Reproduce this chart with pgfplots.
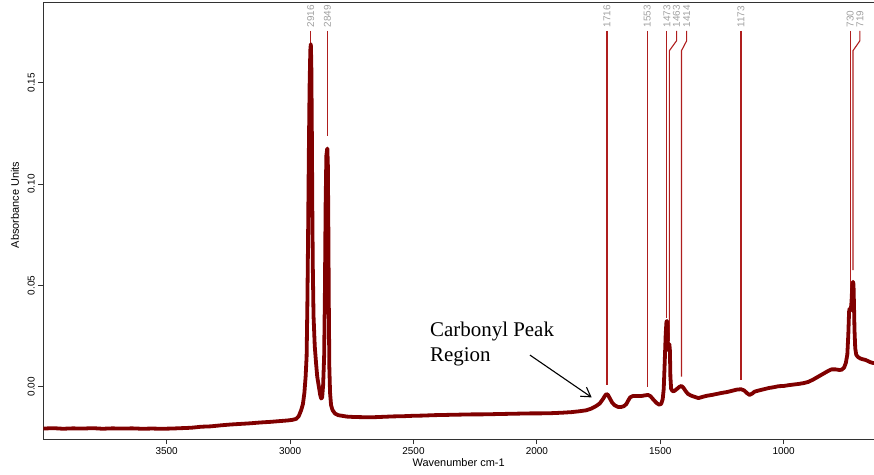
\documentclass[border=0pt]{standalone}
\usepackage{fontspec}
\setmainfont{Liberation Sans}
\newfontfamily\timesfont{Liberation Serif}
\usepackage{pgfplots}
\pgfplotsset{compat=1.18}
\usetikzlibrary{arrows.meta}

\definecolor{spec}{RGB}{128,0,0}
\definecolor{peakline}{RGB}{175,30,30}
\definecolor{peaktext}{RGB}{160,160,160}
\definecolor{axisgray}{RGB}{50,50,50}

\begin{document}
\begin{tikzpicture}
\useasboundingbox (-43.3bp,-35.7bp) rectangle (830.7bp,439.3bp);
\begin{axis}[
  at={(0,0)}, anchor=south west,
  scale only axis,
  width=830.7bp, height=437.3bp,
  x dir=reverse,
  xmin=634, xmax=4000,
  ymin=-0.0259, ymax=0.1898,
  axis x line=box, axis y line=left,
  axis line style={-, axisgray, line width=0.8bp},
  xtick={3500,3000,2500,2000,1500,1000},
  ytick={0,0.05,0.1,0.15},
  xtick pos=left,
  tick align=outside,
  major tick length=5bp,
  tick style={axisgray, line width=0.8bp},
  every tick label/.append style={font=\fontsize{10}{11}\selectfont},
  /pgf/number format/assume math mode=true,
  /pgf/number format/1000 sep={},
  yticklabel style={rotate=90, anchor=south,
    /pgf/number format/fixed, /pgf/number format/fixed zerofill,
    /pgf/number format/precision=2},
  xlabel={Wavenumber cm-1},
  ylabel={Absorbance Units},
  label style={font=\fontsize{11}{12}\selectfont},
  xlabel style={at={(axis description cs:0.5,-0.0627)}, anchor=base},
  ylabel style={at={(axis description cs:-0.0341,0.536)}, anchor=center},
  clip mode=individual,
]

% peak marker lines
\draw[peakline, line width=1.1bp] (axis cs:2916,0.1756) -- (axis cs:2916,0.168);
\draw[peakline, line width=1.1bp] (axis cs:2849,0.1756) -- (axis cs:2849,0.1237);
\draw[peakline, line width=1.1bp] (axis cs:1716,0.1756) -- (axis cs:1716,0.0008);
\draw[peakline, line width=1.1bp] (axis cs:1553,0.1756) -- (axis cs:1553,-0.0003);
\draw[peakline, line width=1.1bp] (axis cs:1473,0.1756) -- (axis cs:1473,0.034);
\draw[peakline, line width=1.1bp] (axis cs:1434,0.1756) -- (axis cs:1434,0.1707) -- (axis cs:1463,0.1658) -- (axis cs:1463,0.0225);
\draw[peakline, line width=1.1bp] (axis cs:1393,0.1756) -- (axis cs:1393,0.1707) -- (axis cs:1414,0.1658) -- (axis cs:1414,0.005);
\draw[peakline, line width=1.1bp] (axis cs:1173,0.1756) -- (axis cs:1173,0.0033);
\draw[peakline, line width=1.1bp] (axis cs:730,0.1756) -- (axis cs:730,0.046);
\draw[peakline, line width=1.1bp] (axis cs:691,0.1756) -- (axis cs:691,0.1707) -- (axis cs:719,0.1658) -- (axis cs:719,0.0576);

\begin{scope}[every node/.style={rotate=90, anchor=west, inner sep=0pt,
    text=peaktext, font=\fontsize{10}{11}\selectfont}]
\node at (axis cs:2916,0.1772) {2916};
\node at (axis cs:2849,0.1772) {2849};
\node at (axis cs:1716,0.1772) {1716};
\node at (axis cs:1553,0.1772) {1553};
\node at (axis cs:1473,0.1772) {1473};
\node at (axis cs:1434,0.1772) {1463};
\node at (axis cs:1393,0.1772) {1414};
\node at (axis cs:1173,0.1772) {1173};
\node at (axis cs:730,0.1772) {730};
\node at (axis cs:691,0.1772) {719};
\end{scope}

\addplot[spec, line width=3.8bp, line join=round, no markers] coordinates {
(4000,-0.0206)(3960,-0.0204)(3920,-0.0207)(3880,-0.0205)(3840,-0.0206)
(3800,-0.0204)(3760,-0.0207)(3720,-0.0205)(3680,-0.0206)(3640,-0.0205)
(3600,-0.0207)(3560,-0.0206)(3520,-0.0207)(3480,-0.0206)(3440,-0.0204)
(3400,-0.0202)(3360,-0.0197)(3320,-0.0195)(3280,-0.0190)(3240,-0.0186)
(3200,-0.0183)(3160,-0.0180)(3120,-0.0176)(3080,-0.0173)(3040,-0.0169)
(3010,-0.0166)(2990,-0.0163)(2975,-0.0158)(2965,-0.0145)(2955,-0.0115)
(2948,-0.0085)(2942,-0.0030)(2937,0.0050)(2933,0.0150)(2930,0.0400)
(2927,0.0750)(2924,0.1150)(2921,0.1480)(2918,0.1660)(2916,0.1690)
(2914,0.1600)(2912,0.1300)(2910,0.0900)(2908,0.0600)(2905,0.0350)
(2900,0.0200)(2895,0.0120)(2890,0.0050)(2884,0.0005)(2878,-0.0040)
(2874,-0.0058)(2870,-0.0052)(2866,0.0010)(2862,0.0150)(2859,0.0450)
(2856,0.0900)(2853,0.1140)(2850,0.1170)(2849,0.1175)(2847,0.1100)
(2845,0.0800)(2843,0.0400)(2841,0.0100)(2838,-0.0030)(2834,-0.0090)
(2828,-0.0115)(2818,-0.0132)(2805,-0.0140)(2790,-0.0143)(2770,-0.0147)
(2740,-0.0149)(2700,-0.0150)(2660,-0.0150)(2620,-0.0148)(2580,-0.0146)
(2540,-0.0145)(2500,-0.0143)(2460,-0.0142)(2420,-0.0140)(2380,-0.0139)
(2340,-0.0138)(2300,-0.0137)(2260,-0.0136)(2220,-0.0136)(2180,-0.0135)
(2140,-0.0134)(2100,-0.0133)(2060,-0.0132)(2020,-0.0131)(1980,-0.0131)
(1940,-0.0130)(1900,-0.0128)(1860,-0.0125)(1830,-0.0121)(1800,-0.0116)
(1780,-0.0108)(1760,-0.0095)(1745,-0.0082)(1732,-0.0060)(1724,-0.0044)
(1718,-0.0036)(1712,-0.0040)(1704,-0.0058)(1695,-0.0078)(1685,-0.0091)
(1672,-0.0099)(1660,-0.0100)(1648,-0.0096)(1638,-0.0086)(1630,-0.0068)
(1622,-0.0052)(1612,-0.0046)(1595,-0.0045)(1575,-0.0045)(1560,-0.0042)
(1550,-0.0040)(1540,-0.0046)(1528,-0.0063)(1515,-0.0080)(1505,-0.0088)
(1496,-0.0084)(1490,-0.0060)(1486,-0.0010)(1482,0.0120)(1478,0.0260)
(1475,0.0320)(1473,0.0325)(1471,0.0300)(1469,0.0200)(1467,0.0180)
(1465,0.0205)(1463,0.0210)(1461,0.0180)(1459,0.0050)(1456,-0.0010)
(1450,-0.0022)(1442,-0.0020)(1432,-0.0010)(1422,0.0000)(1414,0.0004)
(1406,-0.0005)(1398,-0.0020)(1388,-0.0035)(1376,-0.0043)(1360,-0.0050)
(1345,-0.0056)(1330,-0.0050)(1310,-0.0044)(1290,-0.0040)(1270,-0.0035)
(1250,-0.0030)(1230,-0.0026)(1210,-0.0020)(1190,-0.0014)(1173,-0.0012)
(1160,-0.0018)(1148,-0.0032)(1138,-0.0040)(1128,-0.0034)(1118,-0.0024)
(1100,-0.0018)(1080,-0.0012)(1060,-0.0006)(1040,-0.0002)(1020,0.0003)
(1000,0.0004)(980,0.0008)(960,0.0011)(940,0.0014)(920,0.0018)
(900,0.0024)(880,0.0036)(860,0.0050)(840,0.0064)(820,0.0078)
(806,0.0086)(790,0.0086)(775,0.0083)(765,0.0084)(755,0.0095)
(748,0.0118)(742,0.0160)(738,0.0260)(735,0.0370)(733,0.0385)
(731,0.0375)(728,0.0380)(725,0.0420)(722,0.0500)(719,0.0518)
(717,0.0505)(715,0.0400)(713,0.0280)(710,0.0190)(706,0.0158)
(700,0.0148)(690,0.0140)(680,0.0136)(670,0.0133)(660,0.0128)
(650,0.0122)(640,0.0118)(634,0.0117)
};

\node[anchor=base west, inner sep=0pt, font=\timesfont\fontsize{21}{24}\selectfont]
  at (axis cs:2433,0.0250) {Carbonyl Peak};
\node[anchor=base west, inner sep=0pt, font=\timesfont\fontsize{21}{24}\selectfont]
  at (axis cs:2433,0.01268) {Region};
\draw[black, line width=1.1bp, -{Straight Barb[length=9bp, width=11bp]}]
  (axis cs:2028,0.01564) -- (axis cs:1778,-0.00523);
\end{axis}
\end{tikzpicture}
\end{document}
